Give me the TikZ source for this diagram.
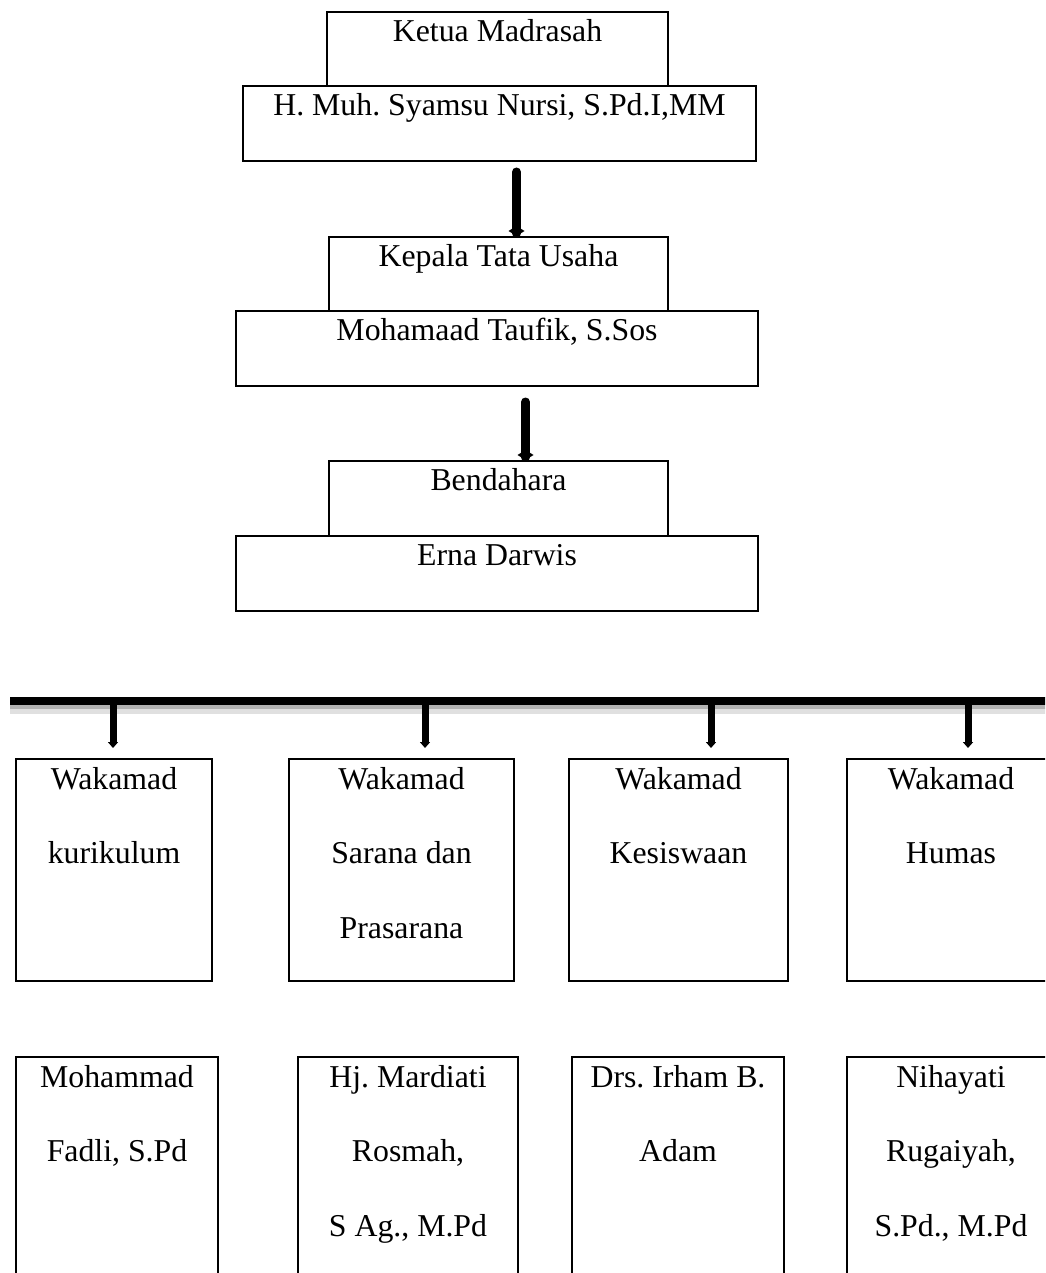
\documentclass[tikz,border=0pt]{standalone}
\usepackage{fontspec}
\setmainfont{Liberation Serif}
\usetikzlibrary{arrows.meta}
\frenchspacing
\newcommand\boxfont{\fontsize{15.9}{37.2}\selectfont}
\tikzset{
	box/.style={draw, line width=1pt, inner sep=0pt, anchor=north west},
	txt/.style={font=\boxfont, align=center, inner sep=0pt, anchor=north, execute at begin node={\rule{0pt}{15pt}}},
	txtm/.style={txt, yshift=-4.5pt},
	link/.style={line width=4.5pt, line cap=round, -{Kite[length=5pt,width=8pt,inset=2.5pt]}},
	drop/.style={line width=3.5pt, line cap=round, -{Triangle[length=3pt,width=5pt]}},
	bar/.style={line width=4pt}
}
\begin{document}
\begin{tikzpicture}[x=0.5pt,y=-0.5pt]
	\useasboundingbox (0,0) rectangle (1045,1273);
	\clip (0,0) rectangle (1045,1273);
	\node[box, minimum width=170.5pt, minimum height=37pt] (ketua) at (326,11) {};
	\node[box, minimum width=256.5pt, minimum height=37.5pt] (hmuh) at (242,85) {};
	\node[txt] (ketua-t) at (ketua.north) {Ketua Madrasah};
	\node[txt] (hmuh-t) at (hmuh.north) {H. Muh. Syamsu Nursi, S.Pd.I,MM};
	\node[box, minimum width=169.5pt, minimum height=37pt] (kepala) at (328,236) {};
	\node[box, minimum width=261pt, minimum height=37.5pt] (taufik) at (235,310) {};
	\node[txt] (kepala-t) at (kepala.north) {Kepala Tata Usaha};
	\node[txt] (taufik-t) at (taufik.north) {Mohamaad Taufik, S.Sos};
	\node[box, minimum width=169.5pt, minimum height=37.5pt] (bendahara) at (328,460) {};
	\node[box, minimum width=261pt, minimum height=37.5pt] (erna) at (235,535) {};
	\node[txt] (bendahara-t) at (bendahara.north) {Bendahara};
	\node[txt] (erna-t) at (erna.north) {Erna Darwis};
	\coordinate (a1) at ([xshift=9pt]kepala.north);
	\coordinate (a2) at ([xshift=13.5pt]bendahara.north);
	\draw[link] ([yshift=32pt]a1) -- (a1);
	\draw[link] ([yshift=29pt]a2) -- (a2);
	\node[box, minimum width=98pt, minimum height=111pt] (wk1) at (15,758) {};
	\node[box, minimum width=112.5pt, minimum height=111pt] (wk2) at (288,758) {};
	\node[box, minimum width=109.5pt, minimum height=111pt] (wk3) at (568,758) {};
	\node[box, minimum width=104pt, minimum height=111pt] (wk4) at (846,758) {};
	\node[txtm] (wk1-t) at (wk1.north) {Wakamad\\kurikulum};
	\node[txtm] (wk2-t) at (wk2.north) {Wakamad\\Sarana dan\\Prasarana};
	\node[txtm] (wk3-t) at (wk3.north) {Wakamad\\Kesiswaan};
	\node[txtm] (wk4-t) at (wk4.north) {Wakamad\\Humas};
	\coordinate (barL) at (10,701);
	\coordinate (barR) at (1060,701);
	\draw[line width=3pt, black!12] ([yshift=-5pt]barL) -- ([yshift=-5pt]barR);
	\draw[line width=2pt, black!30] ([yshift=-3pt]barL) -- ([yshift=-3pt]barR);
	\draw[bar] (barL) -- (barR);
	\coordinate (d1) at ([xshift=-0.5pt,yshift=5pt]wk1.north);
	\coordinate (d2) at ([xshift=11.75pt,yshift=5pt]wk2.north);
	\coordinate (d3) at ([xshift=16.25pt,yshift=5pt]wk3.north);
	\coordinate (d4) at ([xshift=8.5pt,yshift=5pt]wk4.north);
	\foreach \d in {d1,d2,d3,d4}
		\draw[drop] (barL -| \d) -- (\d);
	\node[box, minimum width=101pt, minimum height=125pt] (nm1) at (15,1056) {};
	\node[box, minimum width=110pt, minimum height=125pt] (nm2) at (297,1056) {};
	\node[box, minimum width=106pt, minimum height=125pt] (nm3) at (571,1056) {};
	\node[box, minimum width=104pt, minimum height=125pt] (nm4) at (846,1056) {};
	\node[txtm] (nm1-t) at (nm1.north) {Mohammad\\Fadli, S.Pd};
	\node[txtm] (nm2-t) at (nm2.north) {Hj. Mardiati\\Rosmah,\\S Ag., M.Pd};
	\node[txtm] (nm3-t) at (nm3.north) {Drs. Irham B.\\Adam};
	\node[txtm] (nm4-t) at (nm4.north) {Nihayati\\Rugaiyah,\\S.Pd., M.Pd};
\end{tikzpicture}
\end{document}
